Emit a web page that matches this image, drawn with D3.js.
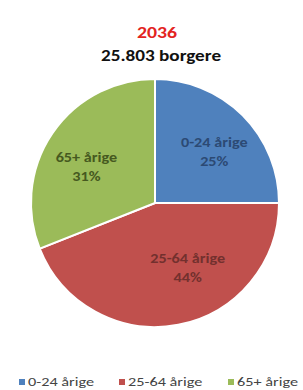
<!DOCTYPE html>
<html lang="da">
<head>
<meta charset="utf-8">
<title>2036 borgere</title>
<script src="https://cdn.jsdelivr.net/npm/d3@7"></script>
<style>
  body { margin: 0; background: #fff; }
  svg text { font-family: Carlito, Lato, "Open Sans", sans-serif; }
</style>
</head>
<body>
<svg id="chart" width="303" height="390"></svg>
<script>
// data
var categories = ["0-24 årige", "25-64 årige", "65+ årige"];
var values = [25, 44, 31];
var colors = ["#4f81bd", "#c0504d", "#9bbb59"];
var labelColors = ["#2c4a74", "#73302e", "#46591f"];
var titleYear = "2036";
var subtitle = "25.803 borgere";

// small nudges from the slice centroid, like Excel's "best fit" labels
var labelNudge = [[4, 5], [18, -11], [-4, 9]];

var svg = d3.select("#chart");
var cx = 155, cy = 203, r = 124;
var stretch = 1.2; // the reference text is a bit wider than it is tall

svg.append("g")
    .attr("transform", "translate(157,38) scale(" + stretch + ",1)")
  .append("text")
    .attr("text-anchor", "middle")
    .attr("font-size", 16.5).attr("font-weight", "bold")
    .attr("fill", "#e3241f")
    .text(titleYear);

svg.append("g")
    .attr("transform", "translate(161,61) scale(" + stretch + ",1)")
  .append("text")
    .attr("text-anchor", "middle")
    .attr("font-size", 16).attr("font-weight", "bold")
    .attr("fill", "#111")
    .text(subtitle);

var pie = d3.pie().sort(null).value(function(d) { return d; });
var arc = d3.arc().innerRadius(0).outerRadius(r);
var labelArc = d3.arc().innerRadius(r * 0.63).outerRadius(r * 0.63);

var g = svg.append("g").attr("transform", "translate(" + cx + "," + cy + ")");
var arcs = pie(values);

g.selectAll("path")
    .data(arcs)
    .enter()
    .append("path")
    .attr("d", arc)
    .attr("fill", function(d, i) { return colors[i]; })
    .attr("stroke", "#fff")
    .attr("stroke-width", 2);

var labels = g.selectAll("g.lbl")
    .data(arcs)
    .enter()
    .append("g")
    .attr("class", "lbl")
    .attr("transform", function(d, i) {
        var c = labelArc.centroid(d);
        return "translate(" + (c[0] + labelNudge[i][0]) + "," + (c[1] + labelNudge[i][1]) + ") scale(" + stretch + ",1)";
    });

labels.append("text")
    .attr("text-anchor", "middle")
    .attr("y", -6)
    .attr("font-size", 13.5).attr("font-weight", "bold")
    .attr("fill", function(d, i) { return labelColors[i]; })
    .text(function(d, i) { return categories[i]; });

labels.append("text")
    .attr("text-anchor", "middle")
    .attr("y", 13)
    .attr("font-size", 13.5).attr("font-weight", "bold")
    .attr("fill", function(d, i) { return labelColors[i]; })
    .text(function(d) { return d.data + "%"; });

// legend
var legendX = [19, 119, 228];
var legend = svg.selectAll("g.leg")
    .data(categories)
    .enter()
    .append("g")
    .attr("class", "leg")
    .attr("transform", function(d, i) { return "translate(" + legendX[i] + ",386)"; });

legend.append("rect")
    .attr("x", 0).attr("y", -7)
    .attr("width", 6).attr("height", 6)
    .attr("fill", function(d, i) { return colors[i]; });

legend.append("g")
    .attr("transform", "translate(9,0) scale(1.25,1)")
  .append("text")
    .attr("font-size", 13)
    .attr("fill", "#444")
    .text(function(d) { return d; });
</script>
</body>
</html>
